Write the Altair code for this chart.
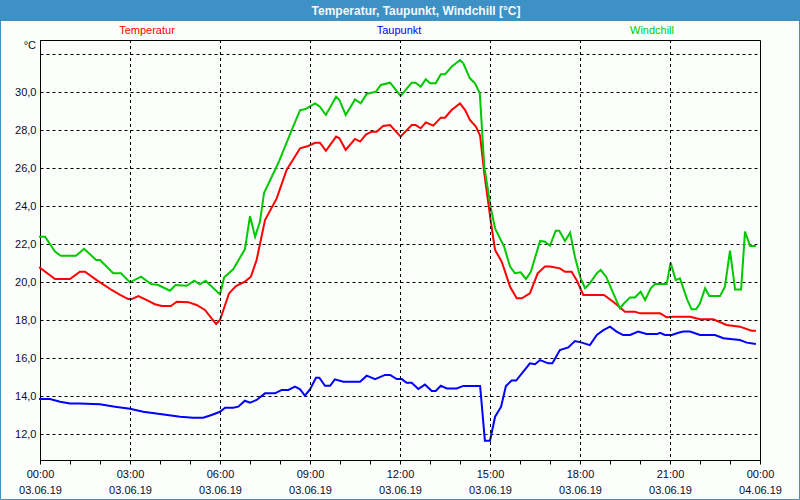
import altair as alt
import pandas as pd

# ---- data (hours since 03.06.19 00:00, °C) ----
temp_h = [0.0, 0.5, 1.0, 1.33, 1.5, 1.89, 2.39, 2.67, 2.94, 3.05, 3.28, 3.56, 3.83, 4.06, 4.36, 4.56,
          4.94, 5.22, 5.5, 5.72, 5.87, 6.0, 6.3, 6.53, 6.83, 7.03, 7.22, 7.5, 7.89, 8.22, 8.67, 8.94,
          9.17, 9.33, 9.53, 9.87, 9.98, 10.19, 10.5, 10.67, 10.87, 11.06, 11.22, 11.44, 11.67, 12.02,
          12.39, 12.52, 12.69, 12.86, 13.11, 13.36, 13.5, 13.72, 14.0, 14.17, 14.33, 14.53, 14.67,
          14.81, 15.02, 15.17, 15.39, 15.67, 15.89, 16.06, 16.33, 16.59, 16.83, 17.0, 17.33, 17.5,
          17.72, 17.89, 18.11, 18.8, 19.17, 19.5, 19.83, 20.0, 20.67, 20.89, 21.11, 21.67, 22.0,
          22.44, 22.89, 23.33, 23.72, 23.83]
temp_v = [20.75, 20.16, 20.16, 20.54, 20.54, 20.1, 19.58, 19.32, 19.1, 19.1, 19.26, 19.05, 18.83, 18.74,
          18.74, 18.96, 18.94, 18.79, 18.53, 18.09, 17.79, 18.0, 19.4, 19.79, 20.02, 20.28, 21.16,
          23.26, 24.4, 25.9, 27.04, 27.16, 27.33, 27.33, 26.9, 27.65, 27.56, 26.95, 27.53, 27.39,
          27.77, 27.91, 27.91, 28.21, 28.26, 27.65, 28.26, 28.26, 28.09, 28.4, 28.23, 28.65, 28.65,
          29.05, 29.4, 29.05, 28.53, 28.18, 27.7, 25.72, 23.26, 21.68, 21.07, 19.75, 19.14, 19.14,
          19.4, 20.46, 20.81, 20.81, 20.72, 20.54, 20.54, 20.1, 19.32, 19.32, 18.88, 18.44, 18.44,
          18.35, 18.35, 18.14, 18.17, 18.17, 18.04, 18.04, 17.74, 17.65, 17.44, 17.44]

dew_h = [0.0, 0.33, 0.67, 1.0, 1.33, 2.0, 2.5, 3.0, 3.44, 4.0, 4.67, 5.11, 5.44, 5.72, 6.0, 6.17, 6.44,
         6.61, 6.83, 7.0, 7.22, 7.5, 7.83, 8.06, 8.28, 8.5, 8.67, 8.83, 9.0, 9.2, 9.31, 9.5, 9.67,
         9.83, 10.11, 10.67, 10.89, 11.17, 11.5, 11.67, 11.89, 12.06, 12.22, 12.39, 12.61, 12.83,
         13.06, 13.19, 13.36, 13.56, 13.89, 14.11, 14.67, 14.7, 14.83, 15.0, 15.17, 15.37, 15.53,
         15.72, 15.87, 16.11, 16.33, 16.5, 16.67, 16.94, 17.08, 17.33, 17.61, 17.83, 18.06, 18.33,
         18.56, 18.78, 19.0, 19.22, 19.44, 19.67, 19.94, 20.22, 20.56, 20.67, 20.83, 21.06, 21.28,
         21.44, 21.67, 22.0, 22.5, 22.78, 23.33, 23.56, 23.83]
dew_v = [13.84, 13.84, 13.7, 13.61, 13.61, 13.56, 13.44, 13.33, 13.17, 13.05, 12.91, 12.86, 12.86, 13.0,
         13.17, 13.38, 13.38, 13.44, 13.75, 13.65, 13.79, 14.14, 14.14, 14.32, 14.32, 14.49, 14.35,
         14.02, 14.35, 14.96, 14.96, 14.54, 14.54, 14.88, 14.75, 14.75, 15.07, 14.89, 15.11, 15.11,
         14.89, 14.89, 14.7, 14.7, 14.37, 14.6, 14.26, 14.26, 14.54, 14.4, 14.4, 14.53, 14.53, 14.0,
         11.65, 11.65, 12.91, 13.44, 14.53, 14.81, 14.81, 15.28, 15.72, 15.67, 15.89, 15.72, 15.72,
         16.42, 16.56, 16.89, 16.81, 16.68, 17.21, 17.47, 17.65, 17.39, 17.21, 17.21, 17.39, 17.26,
         17.26, 17.33, 17.21, 17.21, 17.33, 17.39, 17.39, 17.21, 17.21, 17.04, 16.95, 16.81, 16.74]

wind_h = [0.0, 0.17, 0.5, 0.69, 1.2, 1.47, 1.87, 2.0, 2.44, 2.7, 3.0, 3.37, 3.69, 3.94, 4.33, 4.52, 4.89,
          5.14, 5.33, 5.52, 6.0, 6.14, 6.44, 6.83, 7.0, 7.17, 7.33, 7.47, 7.94, 8.39, 8.67, 8.83, 9.17,
          9.33, 9.53, 9.87, 9.98, 10.19, 10.5, 10.69, 10.89, 11.2, 11.36, 11.67, 12.02, 12.39, 12.52,
          12.69, 12.86, 13.0, 13.19, 13.36, 13.5, 13.72, 14.0, 14.11, 14.33, 14.5, 14.66, 14.81, 15.02,
          15.17, 15.47, 15.67, 15.83, 16.02, 16.2, 16.36, 16.67, 16.83, 17.0, 17.19, 17.31, 17.5, 17.67,
          17.83, 18.02, 18.17, 18.33, 18.56, 18.69, 18.87, 19.11, 19.33, 19.47, 19.67, 19.83, 20.02,
          20.17, 20.36, 20.5, 20.89, 21.02, 21.19, 21.33, 21.58, 21.72, 21.87, 22.0, 22.17, 22.31,
          22.67, 22.83, 23.0, 23.17, 23.37, 23.5, 23.67, 23.83]
wind_v = [22.38, 22.38, 21.6, 21.38, 21.38, 21.75, 21.16, 21.16, 20.46, 20.46, 19.98, 20.28, 19.9, 19.84,
          19.54, 19.84, 19.8, 20.07, 19.88, 20.07, 19.35, 20.25, 20.67, 21.72, 23.47, 22.38, 23.17,
          24.7, 26.25, 28.0, 29.05, 29.09, 29.4, 29.23, 28.79, 29.75, 29.58, 28.79, 29.61, 29.4, 29.9,
          30.02, 30.37, 30.49, 29.8, 30.49, 30.49, 30.28, 30.67, 30.46, 30.46, 30.93, 30.93, 31.33,
          31.68, 31.51, 30.72, 30.46, 29.93, 26.07, 23.96, 22.82, 21.86, 20.81, 20.46, 20.51, 20.16,
          20.54, 22.16, 22.12, 21.91, 22.7, 22.7, 22.16, 22.6, 21.33, 20.19, 19.67, 19.93, 20.46,
          20.63, 20.28, 19.4, 18.61, 18.88, 19.19, 19.19, 19.49, 19.05, 19.67, 19.9, 19.9, 21.02,
          20.1, 20.19, 19.05, 18.56, 18.56, 18.88, 19.67, 19.26, 19.26, 19.75, 21.65, 19.61, 19.61,
          22.65, 21.89, 21.89]

series_names = ["Temperatur", "Taupunkt", "Windchill"]
series_colors = ["#ff0000", "#0000ff", "#00c800"]
legend_x = [107, 359, 612]
title_text = "Temperatur, Taupunkt, Windchill [°C]"
y_ticks = [12, 14, 16, 18, 20, 22, 24, 26, 28, 30, 32]
x_ticks = list(range(25))
v_grid = [3, 6, 9, 12, 15, 18, 21]

rows = []
for name, hs, vs in zip(series_names, [temp_h, dew_h, wind_h], [temp_v, dew_v, wind_v]):
    for h, v in zip(hs, vs):
        rows.append({"series": name, "h": h, "v": v})
df = pd.DataFrame(rows)

FONT = "Liberation Sans"
LABEL_COLOR = "#0a0a30"
FRAME_BLUE = "#3d91c4"

x_scale = alt.Scale(domain=[0, 24], nice=False, zero=False)
y_scale = alt.Scale(domain=[10.632, 32.737], nice=False, zero=False)

x_label_expr = ("datum.value % 3 == 0 ? [(datum.value % 24 < 10 ? '0' : '') + (datum.value % 24) + ':00', "
                "datum.value >= 24 ? '04.06.19' : '03.06.19'] : ''")
y_label_expr = "datum.value > 31 ? '' : replace(format(datum.value, '.1f'), '.', ',')"

x_axis = alt.Axis(
    values=x_ticks, title=None, grid=False, tickSize=4, tickColor="black", domainColor="black",
    labelExpr=x_label_expr, labelFont=FONT, labelFontSize=11, labelColor=LABEL_COLOR,
    labelOverlap=False, labelFlush=False, labelBound=False, labelPadding=4, labelLineHeight=16,
    labelBaseline="top")
y_axis = alt.Axis(
    values=y_ticks, title=None, grid=True, gridDash=[3, 3], gridColor="black", gridOpacity=1,
    tickSize=0, domainColor="black", labelPadding=4, labelExpr=y_label_expr, labelFont=FONT,
    labelFontSize=11, labelColor=LABEL_COLOR)

lines = alt.Chart(df).mark_line(strokeWidth=2, strokeCap="square").encode(
    x=alt.X("h:Q", scale=x_scale, axis=x_axis),
    y=alt.Y("v:Q", scale=y_scale, axis=y_axis),
    color=alt.Color("series:N", scale=alt.Scale(domain=series_names, range=series_colors), legend=None),
    detail="series:N",
)

vgrid = alt.Chart(pd.DataFrame({"h": v_grid})).mark_rule(
    color="black", strokeWidth=1, strokeDash=[3, 3], xOffset=0.5
).encode(x=alt.X("h:Q", scale=x_scale, axis=x_axis))

one = pd.DataFrame({"t": [title_text]})
title_bar = alt.Chart(one).mark_rect(color=FRAME_BLUE).encode(
    x=alt.value(-40), x2=alt.value(760), y=alt.value(-40), y2=alt.value(-19))
frame = alt.Chart(one).mark_rect(fill=None, stroke=FRAME_BLUE, strokeWidth=1).encode(
    x=alt.value(-39.5), x2=alt.value(759.5), y=alt.value(-39.5), y2=alt.value(459.5))
title = alt.Chart(one).mark_text(font=FONT, fontSize=12, fontWeight="bold", color="#f4f8ff",
                                 baseline="middle", align="center").encode(
    text="t:N", x=alt.value(376), y=alt.value(-29.5))

legend_layers = []
for name, col, px in zip(series_names, series_colors, legend_x):
    legend_layers.append(
        alt.Chart(pd.DataFrame({"t": [name]})).mark_text(
            font=FONT, fontSize=11, baseline="middle", align="center", color=col
        ).encode(text="t:N", x=alt.value(px), y=alt.value(-9))
    )

unit = alt.Chart(pd.DataFrame({"t": ["°C"]})).mark_text(
    font=FONT, fontSize=11, baseline="middle", align="right", color=LABEL_COLOR).encode(
    text="t:N", x=alt.value(-4), y=alt.value(6))

chart = alt.layer(lines, vgrid, title_bar, frame, title, *legend_layers, unit).properties(
    width=720, height=420,
    autosize=alt.AutoSizeParams(type="none"),
    padding={"left": 40, "top": 40, "right": 40, "bottom": 40},
    background="#fcfefc",
).configure_view(stroke="black", strokeWidth=1)

chart.save("out.html", embed_options={"renderer": "svg", "actions": False})
